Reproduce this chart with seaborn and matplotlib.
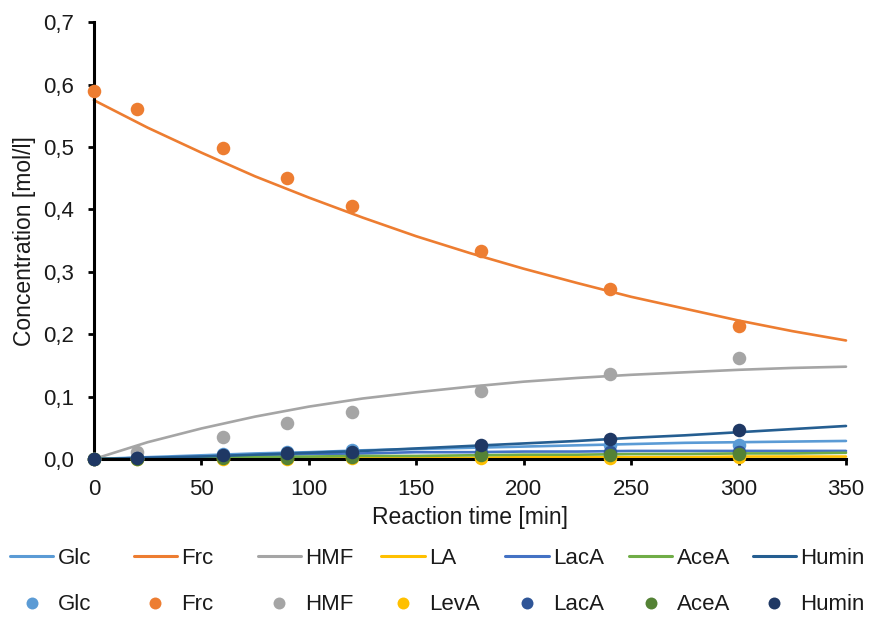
import numpy as np
import pandas as pd
import matplotlib
matplotlib.use("Agg")
import matplotlib.pyplot as plt
from matplotlib.lines import Line2D
from matplotlib.ticker import FuncFormatter, MultipleLocator
import seaborn as sns

# ---- measured concentrations [mol/l] ----
t_exp = [0, 20, 60, 90, 120, 180, 240, 300]
glc_exp = [0.000, 0.002, 0.008, 0.012, 0.015, 0.020, 0.022, 0.022]
frc_exp = [0.590, 0.561, 0.498, 0.451, 0.405, 0.334, 0.273, 0.213]
hmf_exp = [0.000, 0.011, 0.035, 0.057, 0.076, 0.109, 0.136, 0.162]
leva_exp = [0.000, 0.000, 0.000, 0.000, 0.001, 0.002, 0.002, 0.003]
laca_exp = [0.000, 0.001, 0.004, 0.006, 0.008, 0.010, 0.011, 0.012]
acea_exp = [0.000, 0.000, 0.001, 0.002, 0.003, 0.006, 0.007, 0.008]
humin_exp = [0.000, 0.002, 0.007, 0.009, 0.011, 0.023, 0.032, 0.046]

# ---- model curves [mol/l] ----
t_fit = [0, 25, 50, 75, 100, 125, 150, 175, 200, 225, 250, 275, 300, 325, 350]
glc_fit = [0.000, 0.003, 0.006, 0.009, 0.011, 0.014, 0.016, 0.018, 0.020, 0.022,
           0.024, 0.026, 0.027, 0.028, 0.029]
frc_fit = [0.575, 0.531, 0.491, 0.453, 0.419, 0.387, 0.357, 0.330, 0.305, 0.282,
           0.260, 0.241, 0.222, 0.205, 0.190]
hmf_fit = [0.000, 0.027, 0.049, 0.068, 0.084, 0.097, 0.107, 0.116, 0.124, 0.130,
           0.135, 0.139, 0.143, 0.146, 0.148]
la_fit = [0.000, 0.000, 0.001, 0.001, 0.001, 0.002, 0.002, 0.002, 0.003, 0.003,
          0.003, 0.003, 0.004, 0.004, 0.004]
laca_fit = [0.000, 0.002, 0.004, 0.006, 0.008, 0.009, 0.011, 0.011, 0.012, 0.012,
            0.013, 0.013, 0.013, 0.013, 0.013]
acea_fit = [0.000, 0.001, 0.002, 0.003, 0.004, 0.005, 0.005, 0.006, 0.007, 0.007,
            0.008, 0.008, 0.009, 0.009, 0.010]
humin_fit = [0.000, 0.002, 0.004, 0.007, 0.010, 0.013, 0.017, 0.021, 0.025, 0.029,
             0.034, 0.038, 0.043, 0.048, 0.053]

line_labels = ["Glc", "Frc", "HMF", "LA", "LacA", "AceA", "Humin"]
point_labels = ["Glc", "Frc", "HMF", "LevA", "LacA", "AceA", "Humin"]
line_colors = ["#5B9BD5", "#ED7D31", "#A5A5A5", "#FFC000", "#4472C4", "#70AD47", "#255E91"]
point_colors = ["#5B9BD5", "#ED7D31", "#A5A5A5", "#FFC000", "#2F5597", "#548235", "#1F3864"]

fits = [glc_fit, frc_fit, hmf_fit, la_fit, laca_fit, acea_fit, humin_fit]
exps = [glc_exp, frc_exp, hmf_exp, leva_exp, laca_exp, acea_exp, humin_exp]

sns.set_style("white")
plt.rcParams["font.family"] = ["Liberation Sans", "DejaVu Sans"]

fig = plt.figure(figsize=(8.7, 6.17), dpi=100)
ax = fig.add_axes([0.108, 0.256, 0.8644, 0.708])

fit_df = pd.DataFrame({"t": t_fit})
for lab, vals in zip(line_labels, fits):
    fit_df[lab] = vals
exp_df = pd.DataFrame({"t": t_exp})
for lab, vals in zip(point_labels, exps):
    exp_df[lab] = vals

for lab, col in zip(line_labels, line_colors):
    sns.lineplot(data=fit_df, x="t", y=lab, color=col, linewidth=1.9, ax=ax,
                 clip_on=False, zorder=2)
for lab, col in zip(point_labels, point_colors):
    sns.scatterplot(data=exp_df, x="t", y=lab, color=col, s=95, linewidth=0,
                    ax=ax, clip_on=False, zorder=3)

ax.set_xlim(0, 350)
ax.set_ylim(0, 0.7)
ax.xaxis.set_major_locator(MultipleLocator(50))
ax.yaxis.set_major_locator(MultipleLocator(0.1))
ax.yaxis.set_major_formatter(FuncFormatter(lambda v, p: f"{v:.1f}".replace(".", ",")))

for side in ["top", "right"]:
    ax.spines[side].set_visible(False)
for side in ["left", "bottom"]:
    ax.spines[side].set_color("black")
    ax.spines[side].set_linewidth(2.2)

ax.tick_params(axis="both", direction="out", length=4.5, width=2.0, color="black",
               labelsize=16, labelcolor="#1a1a1a", bottom=True, left=True)
ax.tick_params(axis="y", pad=10)
ax.tick_params(axis="x", pad=10)

ax.set_xlabel("Reaction time [min]", fontsize=16.5, color="#1a1a1a", va="center")
ax.set_ylabel("Concentration [mol/l]", fontsize=16.5, color="#1a1a1a", va="center")
ax.xaxis.set_label_coords(0.5, -0.134)
ax.yaxis.set_label_coords(-0.092, 0.5)

# two-row legend: one column per species, evenly spaced
for i in range(7):
    h_line = Line2D([], [], color=line_colors[i], linewidth=2.2)
    h_pt = Line2D([], [], color=point_colors[i], marker="o", linestyle="None",
                  markersize=8.6, markeredgewidth=0)
    fig.legend(handles=[h_line, h_pt], labels=[line_labels[i], point_labels[i]],
               loc="center left", bbox_to_anchor=((10 + 123.8 * i) / 870, 0.0575),
               frameon=False, fontsize=16, handlelength=1.95, handletextpad=0.2,
               labelspacing=1.15, borderpad=0, borderaxespad=0, numpoints=1,
               labelcolor="#1a1a1a")

fig.savefig("out.png", dpi=100)
